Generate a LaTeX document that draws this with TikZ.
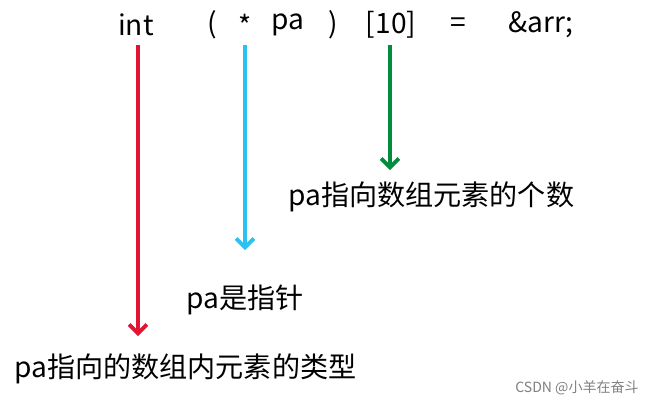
\documentclass[tikz,border=0pt]{standalone}
\usepackage{fontspec}
\setmainfont{Noto Sans CJK SC}
\usetikzlibrary{arrows.meta}
\definecolor{arrred}{RGB}{225,20,50}
\definecolor{arrblue}{RGB}{40,195,240}
\definecolor{arrgreen}{RGB}{0,140,60}
\tikzset{code/.style={font=\fontsize{16}{18}\selectfont, inner sep=0pt},
	note/.style={font=\fontsize{16}{18}\selectfont, inner sep=0pt},
	pointer/.style={line width=2.2pt, -{Straight Barb[length=5pt,width=10pt]}}}
\begin{document}
\begin{tikzpicture}[x=0.02cm, y=-0.02cm]
	\useasboundingbox (0,0) rectangle (657,406);
	% the declaration
	\node[code] (int) at (136,25) {int};
	\node[code] (lp) at (212,25) {(};
	\node[code] (star) at (245,25) {*};
	\node[code] (pa) at (288,25) {pa};
	\node[code] (rp) at (333,25) {)};
	\node[code] (size) at (391,25) {[10]};
	\node[code] (eq) at (458,25) {=};
	\node[code] (addr) at (541,25) {\&arr;};

	% the notes
	\node[note, anchor=west] (count) at (288,197) {pa指向数组元素的个数};
	\node[note, anchor=west] (ptr) at (186,300) {pa是指针};
	\node[note, anchor=west] (type) at (14,369) {pa指向的数组内元素的类型};

	\coordinate (redend) at (138,336);
	\coordinate (blueend) at (245,250);
	\coordinate (greenend) at (390,170);
	\draw[pointer, arrred] (138,45) -- (redend);
	\draw[pointer, arrblue] (245,45) -- (blueend);
	\draw[pointer, arrgreen] (390,45) -- (greenend);

	\node[anchor=east, text=gray, font=\fontsize{8}{9}\selectfont] (mark) at (645,388) {CSDN @小羊在奋斗};
\end{tikzpicture}
\end{document}
